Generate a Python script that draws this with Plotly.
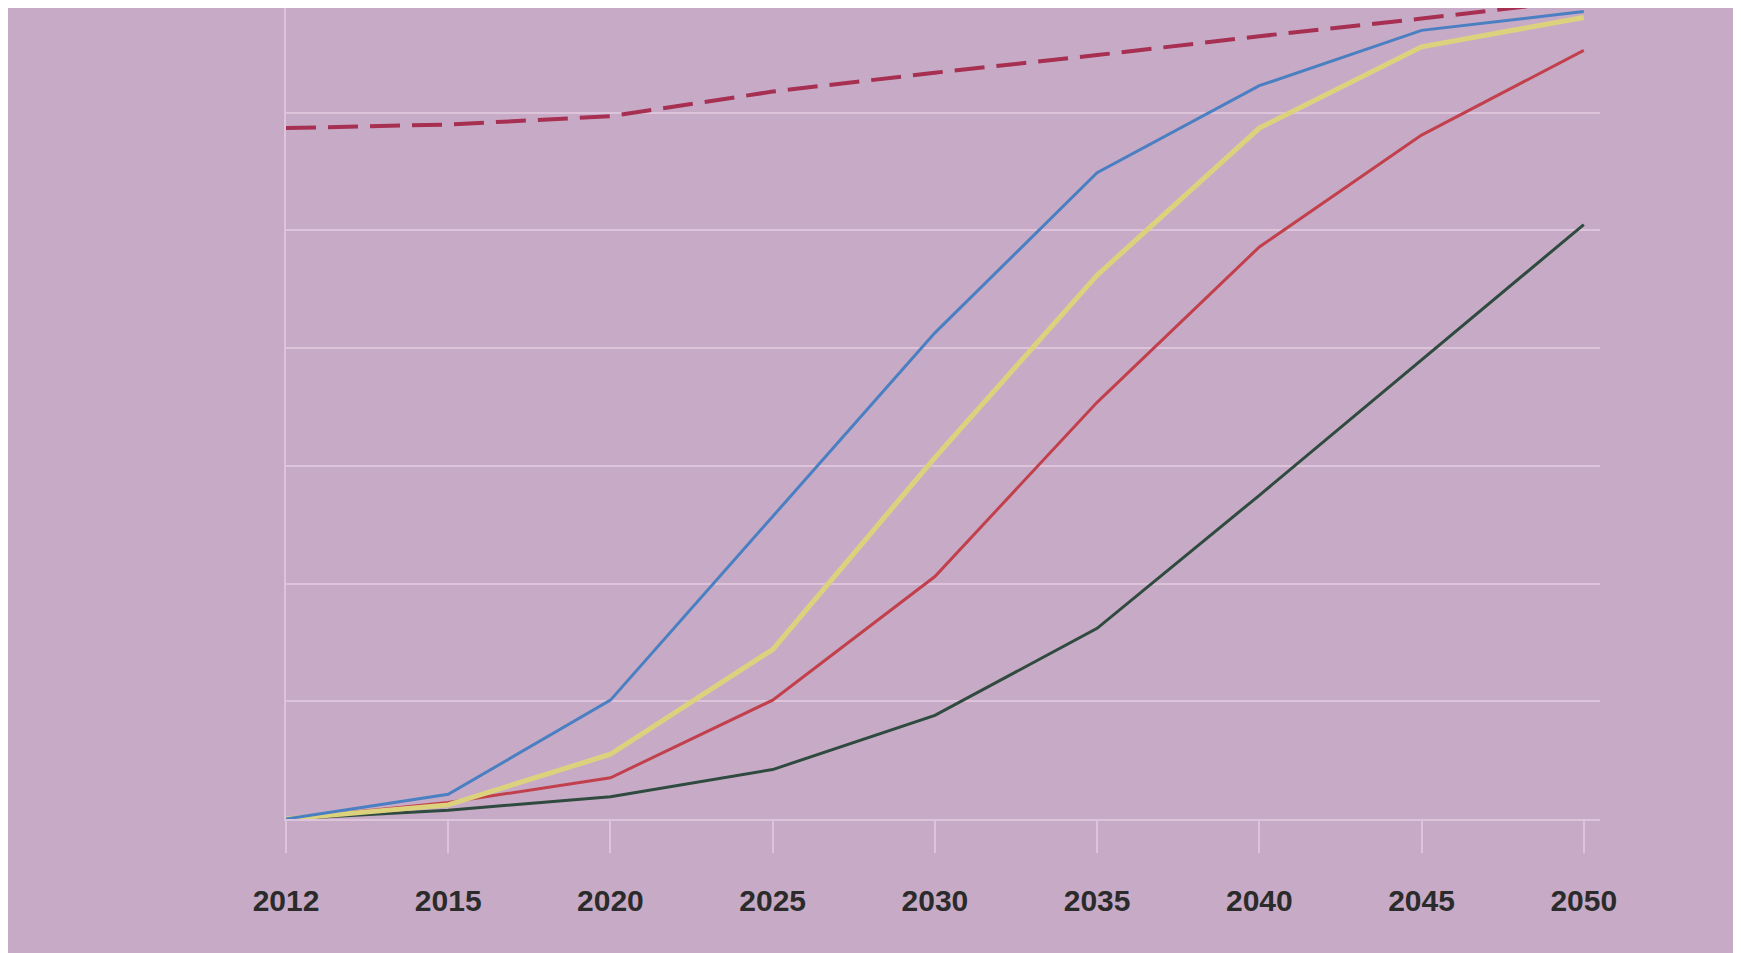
import plotly.graph_objects as go

years = ["2012", "2015", "2020", "2025", "2030", "2035", "2040", "2045", "2050"]

reference_dashed = [58.7, 59.0, 59.7, 61.8, 63.4, 64.9, 66.5, 68.0, 69.6]
blue_series = [0, 2.1, 10.1, 25.7, 41.3, 54.9, 62.3, 67.0, 68.6]
yellow_series = [0, 1.2, 5.5, 14.4, 30.7, 46.2, 58.7, 65.6, 68.1]
red_series = [0, 1.4, 3.5, 10.1, 20.6, 35.4, 48.6, 58.1, 65.3]
green_series = [0, 0.75, 1.9, 4.2, 8.8, 16.2, 27.5, 39.0, 50.5]

BG = "#c7abc6"
GRID = "rgba(236,214,232,0.6)"

fig = go.Figure()

fig.add_trace(go.Scatter(x=years, y=green_series, mode="lines",
                         line=dict(color="#2f4a3e", width=3), showlegend=False))
fig.add_trace(go.Scatter(x=years, y=red_series, mode="lines",
                         line=dict(color="#c2404c", width=3), showlegend=False))
fig.add_trace(go.Scatter(x=years, y=yellow_series, mode="lines",
                         line=dict(color="#dcd27e", width=5), showlegend=False))
fig.add_trace(go.Scatter(x=years, y=blue_series, mode="lines",
                         line=dict(color="#4a7fc2", width=3), showlegend=False))
fig.add_trace(go.Scatter(x=years, y=reference_dashed, mode="lines",
                         line=dict(color="#a62f52", width=4, dash="30px,12px"),
                         showlegend=False))

fig.update_layout(
    width=1741, height=953,
    paper_bgcolor=BG, plot_bgcolor=BG,
    margin=dict(l=278, r=149, t=0, b=142),
    xaxis=dict(
        type="category", range=[0, 8.1],
        showgrid=False, zeroline=False,
        showline=True, linecolor=GRID, linewidth=2,
        ticks="outside", ticklen=32, tickwidth=2, tickcolor=GRID,
        ticklabelstandoff=22,
        tickfont=dict(family="Liberation Sans, Arial, sans-serif", size=30, color="#2b2b2b", weight="bold"),
    ),
    yaxis=dict(
        range=[0, 68.9], dtick=10,
        showgrid=True, gridcolor=GRID, gridwidth=2,
        zeroline=False, showticklabels=False,
        showline=True, linecolor=GRID, linewidth=2,
    ),
)

fig.write_html("out.html")
